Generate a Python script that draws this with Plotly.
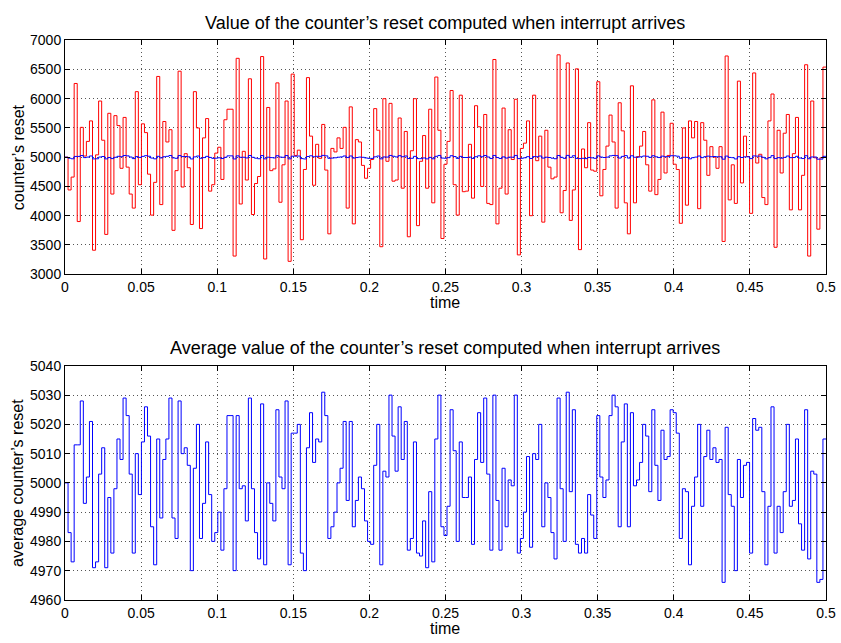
import plotly.graph_objects as go

# ---- data ----
avg_reset = [
    5000, 4983, 4973, 5013, 5013, 5028, 4993, 5002, 5021, 4971,
    4973, 5003, 5012, 4971, 4995, 4976, 4998, 5015, 5008, 5029,
    5023, 5003, 4976, 5010, 4996, 5014, 5026, 5016, 4985, 4972,
    5015, 4988, 5008, 5015, 5029, 4988, 4981, 5028, 5010, 5012,
    5006, 4970, 5005, 5020, 4981, 4993, 5014, 4996, 4980, 4983,
    4990, 4977, 4998, 5023, 5023, 4970, 5023, 4998, 4999, 4987,
    5029, 4998, 4983, 4974,
    5027, 4972, 5000, 4993, 4987, 5025, 5002, 4998, 5028, 4972,
    5017, 5017, 5020, 4976, 4970, 5012, 5024, 5007, 5015, 5014,
    5031, 5023, 4981, 4985, 4990, 5000, 5005, 5021, 4994, 5021,
    4985, 4994, 5002, 4998, 4987, 4980, 4979, 5006, 5020, 4972,
    5004, 5002, 5030, 5016, 5004, 5026, 5008, 5021, 4977, 4981,
    5014, 4976, 4975, 4987, 4971, 4997, 4973, 5015, 5030, 4985,
    4982,
    4992, 5025, 5011, 4980, 5014, 4995, 4995, 5002, 4979, 5008,
    5024, 5007, 5029, 5003, 4977, 5030, 4994, 4977, 5005, 4985,
    5001, 4999, 5030, 4976, 4981, 4990, 5009, 4978, 5010, 5008,
    5020, 4985, 5000, 4995, 4983, 4974, 5029, 4998, 4980, 5031,
    4997, 5025, 4979, 4976, 4981, 4976, 4996, 4989, 4981, 5023,
    5002, 4995, 5001, 5023, 5030, 5026, 4985, 5014, 5027, 4985,
    5024,
    4999, 5001, 5007, 5020, 5016, 4997, 5025, 5006, 4994, 5018,
    5008, 5009, 5025, 5024, 5017, 4981, 4998, 4997, 4972, 4992,
    5002, 5020, 4992, 5009, 5018, 5008, 5012, 5007, 5008, 4966,
    5019, 4996, 4992, 4970, 5008, 4995, 5006, 5007, 4976, 5022,
    5018, 5019, 4997, 4972, 4992, 5026, 4976, 4992, 4983, 4997,
    5020, 4992, 4994, 5015, 4986, 4977, 5025, 4974, 5004, 5003,
    4966, 4967, 5015,
]

raw_reset = [
    5000, 4440, 4660, 6260, 3900, 5510, 5020, 5270, 5620, 3410,
    5040, 5960, 5290, 3680, 5750, 4370, 5710, 5540, 4810, 5680,
    4830, 4370, 4130, 6120, 4530, 5570, 5420, 4710, 4010, 4570,
    6380, 4190, 5610, 5260, 5470, 3750, 4770, 6470, 4490, 5060,
    4820, 3850, 6120, 5500, 3780, 5330, 5660, 4420, 4530, 5070,
    5170, 4620, 5640, 5820, 5820, 3310, 6690, 4200, 5100, 4610,
    6340, 4020, 4550, 4670,
    6720, 3260, 5850, 4770, 4800, 6270, 4230, 4870, 5960, 3220,
    6420, 5030, 5120, 3590, 4790, 6360, 5360, 4520, 5220, 4980,
    5560, 4780, 3690, 5150, 5090, 5330, 5150, 5510, 4130, 5860,
    3860, 5300, 5260, 4860, 4640, 4810, 4960, 5830, 5460, 3470,
    6000, 4930, 5920, 4590, 4610, 5670, 4470, 5440, 3640, 5110,
    6000, 3830, 4930, 5370, 4470, 5820, 4220, 6370, 5460, 3610,
    4880,
    5270, 6140, 4530, 4010, 6060, 4410, 4420, 5220, 4300, 5880,
    5520, 4500, 5730, 4210, 4190, 6670, 3860, 4470, 5840, 4370,
    5470, 4960, 5990, 3330, 5150, 5240, 5620, 4000, 6060, 4940,
    5360, 3890, 5460, 4830, 4630, 4660, 6750, 4050, 4430, 6610,
    3920, 4440, 6510, 3420, 5140, 4820, 5590, 4780, 4760, 6290,
    4340, 4790, 5190, 5720, 5260, 4130, 5930, 5450, 4220, 3690,
    6220,
    4220, 5010, 5190, 5440, 4870, 4420, 5980, 4360, 4620, 5770,
    4730, 5030, 5580, 4880, 4790, 3870, 5500, 4180, 5620, 5330,
    5610, 4120, 5590, 5290, 4690, 5180, 5000, 4810, 5180, 3560,
    6730, 4270, 4870, 4210, 6300, 4560, 5360, 5010, 4040, 6440,
    4900, 5050, 4310, 4190, 5620, 6080, 3460, 5460, 4730, 5410,
    5730, 4100, 5060, 5680, 4100, 4690, 6580, 3310, 5960, 4990,
    3770, 4990, 6540,
]

t_end = 0.5
x_ticks = [0, 0.05, 0.1, 0.15, 0.2, 0.25, 0.3, 0.35, 0.4, 0.45, 0.5]
x_tick_text = ["0", "0.05", "0.1", "0.15", "0.2", "0.25", "0.3", "0.35", "0.4", "0.45", "0.5"]
top_y_ticks = [3000, 3500, 4000, 4500, 5000, 5500, 6000, 6500, 7000]
bot_y_ticks = [4960, 4970, 4980, 4990, 5000, 5010, 5020, 5030, 5040]

title_top = "Value of the counter\u2019s reset computed when interrupt arrives"
title_bot = "Average value of the counter\u2019s reset computed when interrupt arrives"
ylab_top = "counter\u2019s reset"
ylab_bot = "average counter\u2019s reset"
xlab = "time"


def step_series(vals):
    n = len(vals)
    dt = t_end / n
    xs = [i * dt for i in range(n)] + [t_end]
    ys = list(vals) + [vals[-1]]
    return xs, ys


W, H = 841, 643
L, R = 65, 15
FONT = "Liberation Sans, Arial, Helvetica, sans-serif"

xr, yr = step_series(raw_reset)
xa, ya = step_series(avg_reset)

fig = go.Figure()
fig.add_trace(go.Scatter(x=xr, y=yr, mode="lines", line=dict(color="#ff0000", width=1, shape="hv"),
                         xaxis="x", yaxis="y", showlegend=False, hoverinfo="skip"))
fig.add_trace(go.Scatter(x=xa, y=ya, mode="lines", line=dict(color="#0000ff", width=1, shape="hv"),
                         xaxis="x", yaxis="y", showlegend=False, hoverinfo="skip"))
fig.add_trace(go.Scatter(x=xa, y=ya, mode="lines", line=dict(color="#0000ff", width=1, shape="hv"),
                         xaxis="x2", yaxis="y2", showlegend=False, hoverinfo="skip"))


def py(px):
    return 1 - px / H


def pxx(px):
    return (px - L) / (W - L - R)


axis_common = dict(
    showline=True, linecolor="black", linewidth=1, mirror="allticks",
    ticks="inside", ticklen=5, tickcolor="black", tickwidth=1,
    showgrid=True, gridcolor="#555555", griddash="1px,3px", gridwidth=1,
    zeroline=False, tickfont=dict(family=FONT, size=14, color="black"),
)

fig.update_layout(
    width=W, height=H,
    margin=dict(l=L, r=R, t=0, b=0),
    paper_bgcolor="white", plot_bgcolor="white",
    xaxis=dict(domain=[0, 1], anchor="y", range=[0, t_end], tickvals=x_ticks, ticktext=x_tick_text, **axis_common),
    yaxis=dict(domain=[py(273), py(33)], anchor="x", range=[3000, 7000], tickvals=top_y_ticks,
               tickformat="d", **axis_common),
    xaxis2=dict(domain=[0, 1], anchor="y2", range=[0, t_end], tickvals=x_ticks, ticktext=x_tick_text, **axis_common),
    yaxis2=dict(domain=[py(607), py(367)], anchor="x2", range=[4960, 5040], tickvals=bot_y_ticks,
                tickformat="d", **axis_common),
)

ann = []
ann.append(dict(text=title_top, x=pxx(445), y=py(15), xref="paper", yref="paper", showarrow=False,
                xanchor="center", yanchor="middle", font=dict(family=FONT, size=18, color="black")))
ann.append(dict(text=title_bot, x=pxx(445), y=py(349), xref="paper", yref="paper", showarrow=False,
                xanchor="center", yanchor="middle", font=dict(family=FONT, size=18, color="black")))
ann.append(dict(text=xlab, x=pxx(445), y=py(302), xref="paper", yref="paper", showarrow=False,
                xanchor="center", yanchor="middle", font=dict(family=FONT, size=16, color="black")))
ann.append(dict(text=xlab, x=pxx(445), y=py(636), xref="paper", yref="paper", showarrow=False,
                xanchor="center", yanchor="middle", font=dict(family=FONT, size=16, color="black")))
ann.append(dict(text=ylab_top, x=pxx(18), y=py(153), xref="paper", yref="paper", showarrow=False,
                textangle=-90, xanchor="center", yanchor="middle", font=dict(family=FONT, size=16, color="black")))
ann.append(dict(text=ylab_bot, x=pxx(18), y=py(487), xref="paper", yref="paper", showarrow=False,
                textangle=-90, xanchor="center", yanchor="middle", font=dict(family=FONT, size=16, color="black")))
fig.update_layout(annotations=ann)

fig.write_html(
    "out.html",
    config={"displayModeBar": False},
    post_script="document.body.style.margin='0';document.body.style.overflow='hidden';",
)
